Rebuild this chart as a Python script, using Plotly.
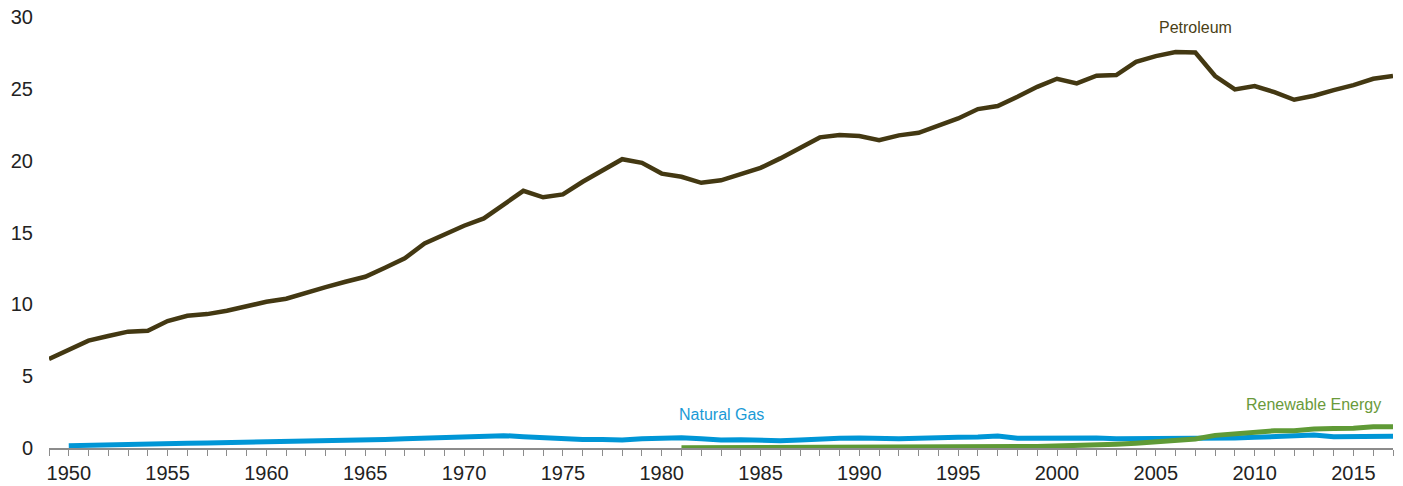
import plotly.graph_objects as go

years_pet = list(range(1949, 2018))
petroleum = [6.19, 6.8, 7.47, 7.8, 8.1, 8.16, 8.84, 9.2, 9.32, 9.55, 9.9,
             10.18, 10.39, 10.83, 11.2, 11.57, 11.92, 12.55, 13.2, 14.24, 14.87,
             15.47, 15.98, 16.9, 17.9, 17.45, 17.65, 18.53, 19.3, 20.1, 19.85,
             19.1, 18.88, 18.46, 18.63, 19.07, 19.5, 20.16, 20.85, 21.62, 21.78,
             21.71, 21.43, 21.76, 21.94, 22.4, 22.94, 23.59, 23.8, 24.45, 25.14,
             25.7, 25.38, 25.91, 25.96, 26.88, 27.28, 27.56, 27.53, 25.89, 24.96,
             25.19, 24.77, 24.24, 24.52, 24.91, 25.26, 25.7, 25.89]

years_gas = list(range(1950, 2018))
natural_gas = [0.16, 0.2, 0.23, 0.26, 0.28, 0.3, 0.33, 0.35, 0.37, 0.39,
               0.4, 0.42, 0.45, 0.48, 0.52, 0.56, 0.6, 0.64, 0.68, 0.72,
               0.79, 0.84, 0.86, 0.79, 0.72, 0.63, 0.6, 0.59, 0.56, 0.65,
               0.7, 0.72, 0.65, 0.56, 0.58, 0.53, 0.5, 0.56, 0.65, 0.68,
               0.7, 0.65, 0.65, 0.68, 0.74, 0.74, 0.77, 0.84, 0.68, 0.7,
               0.7, 0.7, 0.7, 0.65, 0.65, 0.65, 0.65, 0.66, 0.68, 0.7,
               0.74, 0.77, 0.79, 0.9, 0.79, 0.8, 0.8, 0.82]

years_ren = list(range(1981, 2018))
renewable = [0.01, 0.02, 0.03, 0.04, 0.05, 0.06, 0.07, 0.07, 0.07, 0.06,
             0.06, 0.07, 0.08, 0.09, 0.1, 0.08, 0.09, 0.1, 0.1, 0.12,
             0.14, 0.19, 0.26, 0.33, 0.42, 0.51, 0.63, 0.88, 0.99, 1.11,
             1.2, 1.2, 1.32, 1.35, 1.37, 1.48, 1.48]

series_names = ["Petroleum", "Natural Gas", "Renewable Energy"]
colors = ["#433812", "#0096d6", "#5f9a36"]

fig = go.Figure()
fig.add_trace(go.Scatter(x=years_pet, y=petroleum, mode="lines", name=series_names[0],
                         line=dict(color=colors[0], width=4.5)))
fig.add_trace(go.Scatter(x=years_gas, y=natural_gas, mode="lines", name=series_names[1],
                         line=dict(color=colors[1], width=5)))
fig.add_trace(go.Scatter(x=years_ren, y=renewable, mode="lines", name=series_names[2],
                         line=dict(color=colors[2], width=5)))

font_family = "Liberation Sans, Arial, sans-serif"

fig.add_annotation(x=2007.0, y=29.25, text="Petroleum", showarrow=False,
                   font=dict(color="#4a3f16", size=16, family=font_family))
fig.add_annotation(x=1983.0, y=2.3, text="Natural Gas", showarrow=False,
                   font=dict(color="#1a9ad6", size=16, family=font_family))
fig.add_annotation(x=2013.0, y=3.06, text="Renewable Energy", showarrow=False,
                   font=dict(color="#6a9a3a", size=16, family=font_family))

fig.update_layout(
    width=1403, height=486,
    margin=dict(l=49, r=10, t=17, b=38),
    paper_bgcolor="white", plot_bgcolor="white",
    showlegend=False,
    font=dict(family=font_family, size=20, color="#222222"),
    xaxis=dict(range=[1949, 2017], showgrid=False, zeroline=False, automargin=False,
               showline=True, linecolor="#8c8c8c", linewidth=2,
               tickmode="linear", tick0=1950, dtick=5,
               ticks="outside", ticklen=6, tickcolor="#8c8c8c", tickwidth=1,
               minor=dict(dtick=1, tick0=1949, ticks="outside", ticklen=6,
                          tickcolor="#8c8c8c", tickwidth=1, showgrid=False),
               tickfont=dict(size=20, color="#222222")),
    yaxis=dict(range=[0, 30], showgrid=False, zeroline=False, showline=False,
               automargin=False,
               tickmode="linear", tick0=0, dtick=5, ticks="",
               ticklabelstandoff=15,
               tickfont=dict(size=20, color="#222222")),
)

fig.write_html("out.html", config={"displayModeBar": False},
               post_script="document.body.style.margin='0px';")
